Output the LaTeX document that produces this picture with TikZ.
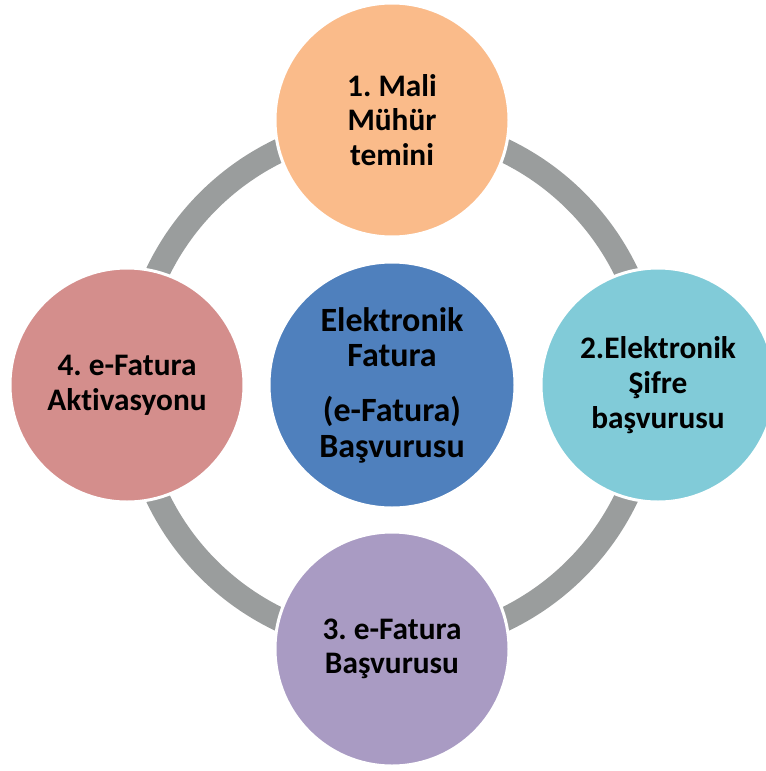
\documentclass[tikz,border=0pt]{standalone}
\usepackage{fontspec}
\setmainfont{Carlito}[Ligatures=NoCommon]
\frenchspacing
\definecolor{ringgray}{RGB}{154,157,157}
\definecolor{corange}{RGB}{250,187,138}
\definecolor{cteal}{RGB}{129,203,216}
\definecolor{cblue}{RGB}{79,128,189}
\definecolor{cpink}{RGB}{212,142,140}
\definecolor{cpurple}{RGB}{169,155,195}
\begin{document}
\begin{tikzpicture}[x=0.75pt,y=-0.75pt,
  ring/.style={draw=ringgray,line width=18pt},
  stepcircle/.style={circle,draw=white,line width=2.25pt,minimum size=175.5pt,inner sep=0pt,
    align=center,font=\bfseries\fontsize{23.5}{26}\selectfont\frenchspacing,text=black},
  hubcircle/.style={stepcircle,minimum size=184.5pt,font=\bfseries\fontsize{25.5}{26.5}\selectfont\frenchspacing}]
\useasboundingbox (0,0) rectangle (766,771);
\clip (0,0) rectangle (766,771);
\coordinate (c) at (392,385);
\draw[ring] (c) circle[radius=195pt];
\node[stepcircle,fill=corange] (top) at (392,120) {1. Mali\\Mühür\\temini};
\node[stepcircle,fill=cteal] (right) at (658,385) {2.Elektronik\\Şifre\\başvurusu};
\node[stepcircle,fill=cpurple] (bottom) at (392,649) {3. e-Fatura\\Başvurusu};
\node[stepcircle,fill=cpink] (left) at (127,385) {4. e-Fatura\\Aktivasyonu};
\node[hubcircle,fill=cblue] (hub) at (c) {Elektronik\\Fatura\\[15pt](e-Fatura)\\Başvurusu};
\end{tikzpicture}
\end{document}
